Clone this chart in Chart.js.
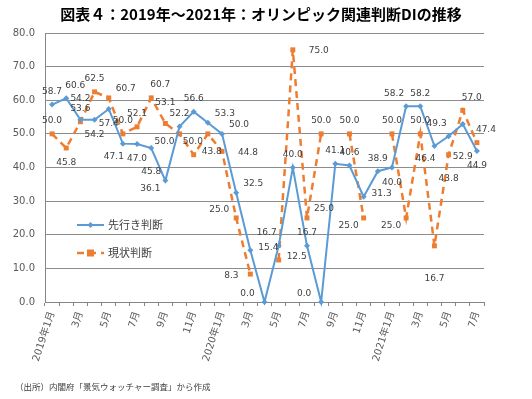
<!DOCTYPE html>
<html><head><meta charset="utf-8">
<script src="https://cdn.jsdelivr.net/npm/chart.js@4.4.1/dist/chart.umd.min.js"></script>
<style>html,body{margin:0;padding:0;background:#fff}canvas{display:block}</style>
</head><body>
<canvas id="c" width="532" height="399"></canvas>
<script>
const titleText = '図表４：2019年～2021年：オリンピック関連判断DIの推移';
const sourceText = '（出所）内閣府「景気ウォッチャー調査」から作成';
const seriesNames = ['先行き判断', '現状判断'];

const categories = [
  '2019年1月','2019年2月','2019年3月','2019年4月','2019年5月','2019年6月','2019年7月','2019年8月','2019年9月','2019年10月','2019年11月','2019年12月',
  '2020年1月','2020年2月','2020年3月','2020年4月','2020年5月','2020年6月','2020年7月','2020年8月','2020年9月','2020年10月','2020年11月','2020年12月',
  '2021年1月','2021年2月','2021年3月','2021年4月','2021年5月','2021年6月','2021年7月'
];
const tickLabels = [
  '2019年1月','','3月','','5月','','7月','','9月','','11月','',
  '2020年1月','','3月','','5月','','7月','','9月','','11月','',
  '2021年1月','','3月','','5月','','7月'
];
const outlook = [58.7,60.6,54.2,54.2,57.4,47.1,47.0,45.8,36.1,52.2,56.6,53.3,50.0,32.5,15.4,0.0,16.7,40.0,16.7,0.0,41.1,40.6,31.3,38.9,40.0,58.2,58.2,46.4,49.3,52.9,44.9];
const current = [50.0,45.8,53.6,62.5,60.7,50.0,52.1,60.7,53.1,50.0,43.8,50.0,44.8,25.0,8.3,null,12.5,75.0,25.0,50.0,null,50.0,25.0,null,50.0,25.0,50.0,16.7,43.8,57.0,47.4];
const yMin = 0, yMax = 80, yStep = 10;

// label placement codes (kept apart from the values)
const outlookLabelPos = ['T','TR','T2','B','B','BL','B','BB','LB','T','T','RT','RT','RT','R','LT','TL','T','T','LT','T','T','R','T','B','TL','T','BL','TL','BBB','B'];
const currentLabelPos = ['T','B','T','T','RT','T','T','TR','T2','LB','R','LB','RR','LT','L','T','R','RR','RT','T','T','T','LB','T','T','LB','T','BBB','BB','TR','TR'];
const OFF = {T:[0,-13],T2:[0,-21],TR:[9,-13],TL:[-12,-13],RT:[17,-9],R:[18,-3],RR:[26,1],
  L:[-19,2],LT:[-17,-8],LB:[-15,8],B:[0,15],BB:[0,24],BBB:[0,33],BL:[-9,13]};

const BLUE = '#5B9BD5', ORANGE = '#ED7D31', TXT = '#404040';

const valueLabels = {
  id: 'valueLabels',
  afterDatasetsDraw(chart) {
    const ctx = chart.ctx;
    ctx.save();
    ctx.font = '9px "DejaVu Sans"';
    ctx.fillStyle = TXT;
    ctx.textAlign = 'center';
    ctx.textBaseline = 'middle';
    chart.data.datasets.forEach((ds, di) => {
      const meta = chart.getDatasetMeta(di);
      meta.data.forEach((pt, i) => {
        const v = ds.data[i];
        if (v == null) return;
        const o = OFF[ds.labelPos[i]] || OFF.T;
        ctx.fillText(v.toFixed(1), pt.x + o[0], pt.y + o[1]);
      });
    });
    ctx.restore();
  }
};

const extras = {
  id: 'extras',
  afterDraw(chart) {
    const ctx = chart.ctx;
    ctx.save();
    // title
    ctx.fillStyle = '#000';
    ctx.font = 'bold 15px "Noto Sans CJK JP"';
    ctx.textAlign = 'center';
    ctx.textBaseline = 'middle';
    ctx.fillText(titleText, 261, 14);
    // source
    ctx.fillStyle = TXT;
    ctx.font = '8.5px "Noto Sans CJK JP"';
    ctx.textAlign = 'left';
    ctx.fillText(sourceText, 15, 387);
    // legend
    const items = chart.data.datasets;
    const ys = [225, 253];
    items.forEach((ds, k) => {
      const y = ys[k];
      ctx.strokeStyle = ds.borderColor;
      ctx.lineWidth = ds.borderWidth;
      ctx.setLineDash(ds.borderDash || []);
      ctx.beginPath(); ctx.moveTo(77, y); ctx.lineTo(104, y); ctx.stroke();
      ctx.setLineDash([]);
      ctx.fillStyle = ds.borderColor;
      if (ds.pointStyle === 'rect') {
        ctx.fillRect(90.5 - 3.5, y - 3.5, 7, 7);
      } else {
        ctx.beginPath(); ctx.moveTo(90.5, y - 3); ctx.lineTo(93.5, y); ctx.lineTo(90.5, y + 3); ctx.lineTo(87.5, y); ctx.closePath(); ctx.fill();
      }
      ctx.fillStyle = TXT;
      ctx.font = '11px "Noto Sans CJK JP"';
      ctx.textAlign = 'left';
      ctx.fillText(ds.label, 108, y);
    });
    ctx.restore();
  }
};

new Chart(document.getElementById('c'), {
  type: 'line',
  data: {
    labels: categories,
    datasets: [
      { label: seriesNames[0], data: outlook, labelPos: outlookLabelPos,
        borderColor: BLUE, backgroundColor: BLUE, borderWidth: 2,
        pointStyle: 'rectRot', pointRadius: 3, pointBackgroundColor: BLUE, pointBorderColor: BLUE, pointBorderWidth: 0,
        tension: 0, clip: 8, spanGaps: false },
      { label: seriesNames[1], data: current, labelPos: currentLabelPos,
        borderColor: ORANGE, backgroundColor: ORANGE, borderWidth: 2.5, borderDash: [7, 5],
        pointStyle: 'rect', pointRadius: 3.5, pointBackgroundColor: ORANGE, pointBorderColor: ORANGE, pointBorderWidth: 0,
        tension: 0, clip: 8, spanGaps: false }
    ]
  },
  options: {
    responsive: false,
    devicePixelRatio: 1,
    animation: false,
    layout: { padding: { top: 33, left: 0, right: 48, bottom: 0 } },
    plugins: { legend: { display: false }, title: { display: false }, tooltip: { enabled: false } },
    scales: {
      x: {
        offset: true,
        afterFit(s) { s.height = 97; },
        grid: { drawOnChartArea: false, drawTicks: true, tickLength: 4, offset: true, color: '#868686' },
        border: { color: '#868686', width: 1 },
        ticks: {
          autoSkip: false, minRotation: 72, maxRotation: 72, padding: 4,
          color: '#595959', font: { family: '"DejaVu Sans", "Noto Sans CJK JP"', size: 10 },
          callback: (v, i) => tickLabels[i]
        }
      },
      y: {
        min: yMin, max: yMax,
        afterFit(s) { s.width = 45; },
        grid: { color: '#8c8c8c', drawTicks: false },
        border: { color: '#868686', width: 1 },
        ticks: {
          stepSize: yStep, padding: 10, color: '#595959',
          font: { family: '"DejaVu Sans"', size: 10 },
          callback: v => Number(v).toFixed(1)
        }
      }
    }
  },
  plugins: [valueLabels, extras]
});
</script>
</body></html>
